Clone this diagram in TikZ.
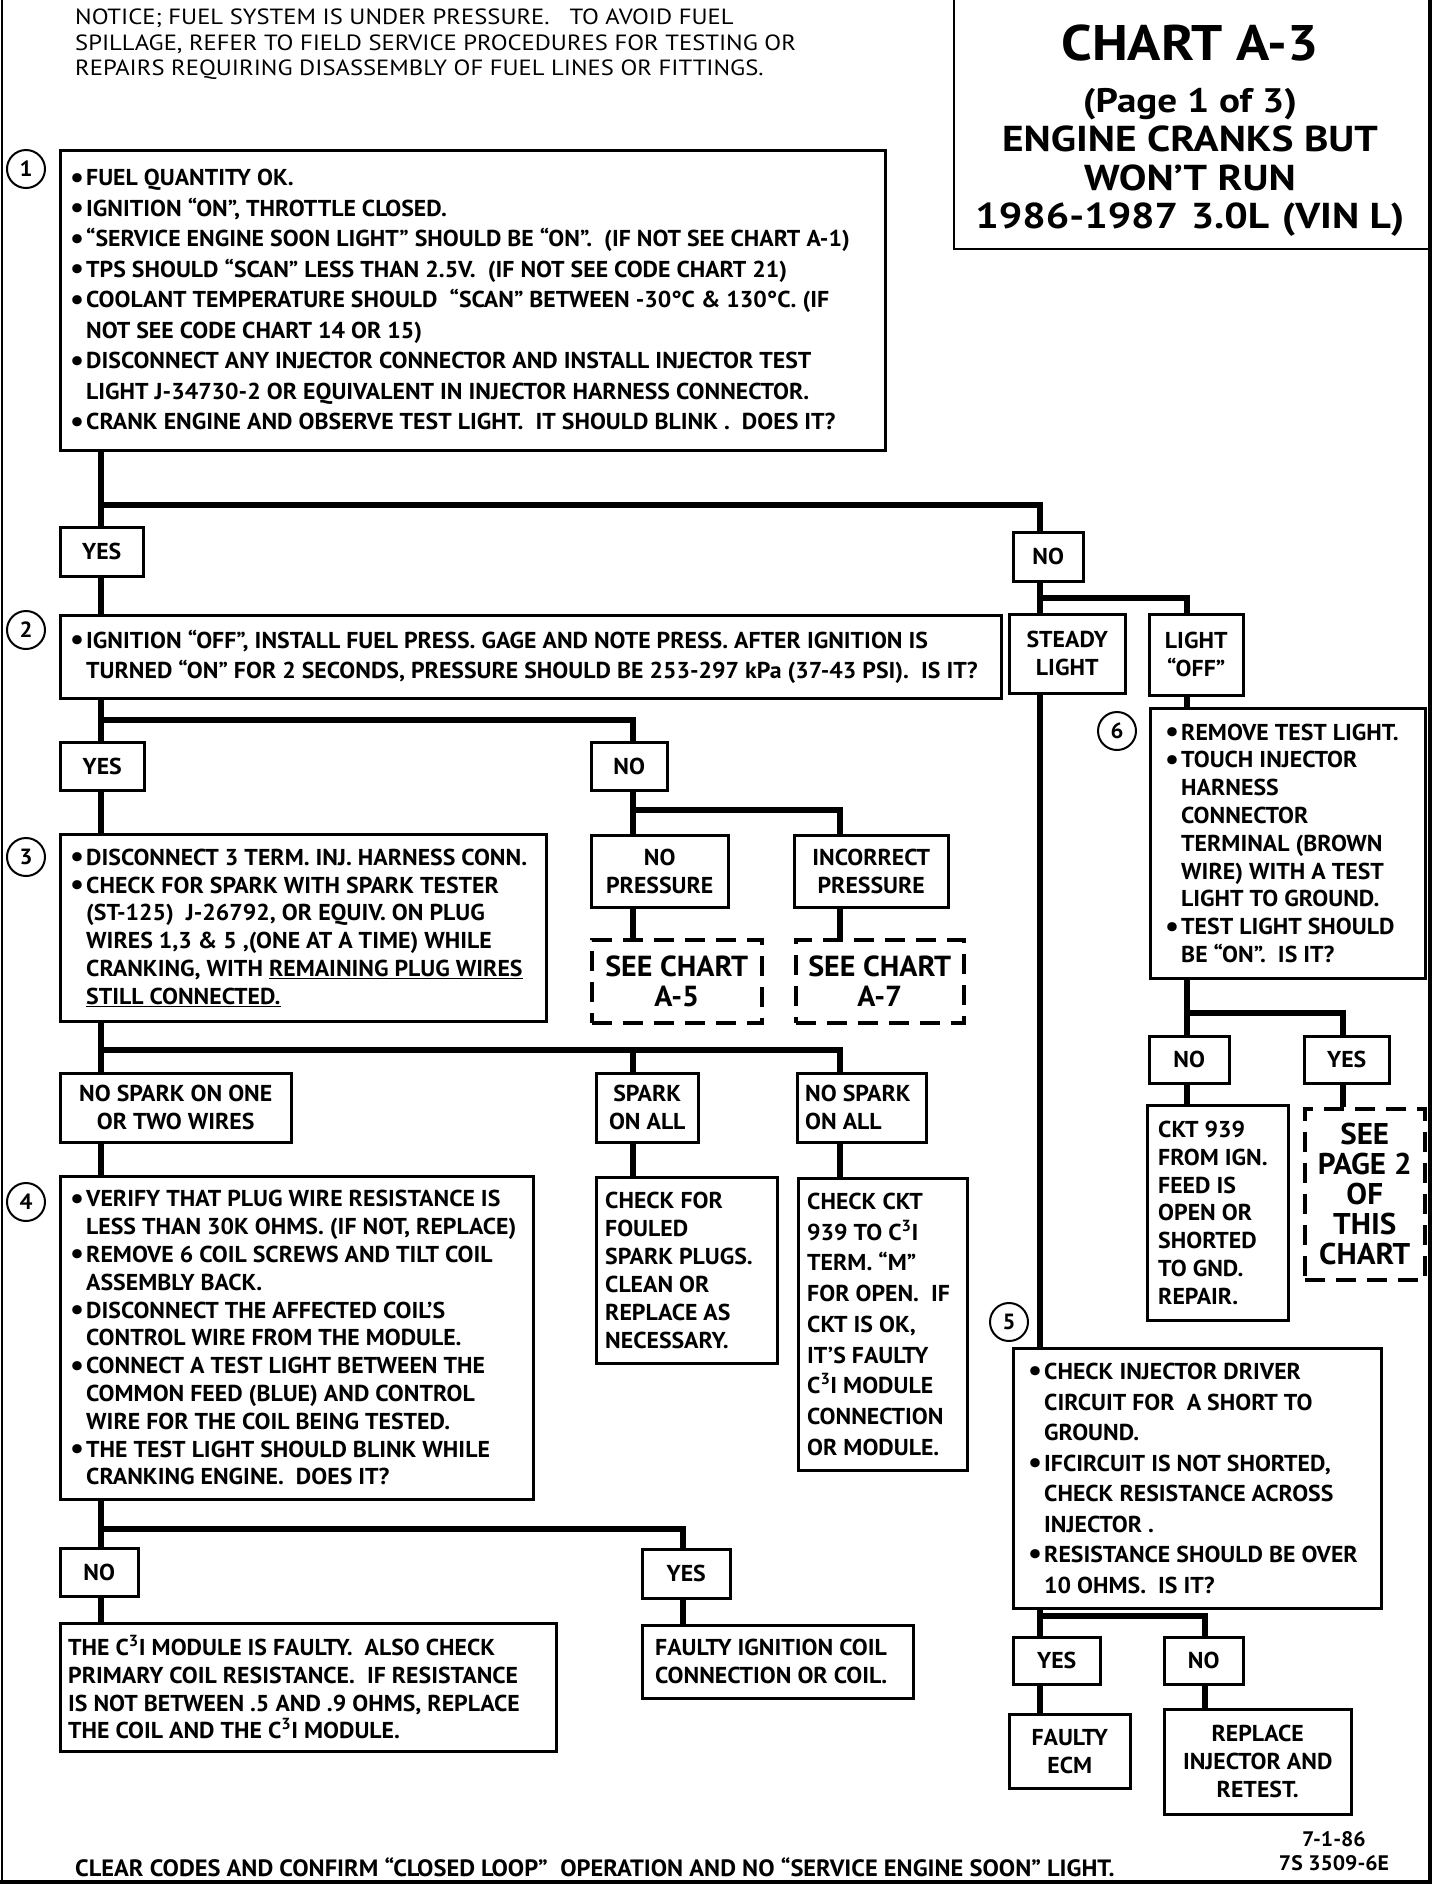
\documentclass[tikz,border=0pt]{standalone}
\usepackage{fontspec}
\usetikzlibrary{calc}
\setmainfont{PT Sans}[FakeStretch=1.035]
\newfontfamily\chartfont{PT Sans}[FakeStretch=1.1]
\newfontfamily\titlefont{PT Sans}[FakeStretch=1.15]
\newfontfamily\noticefont{PT Sans}[FakeStretch=1.12]
\newcommand\myfs[2]{\fontsize{#1}{#2}\selectfont\bfseries}
\newcommand\bul{\makebox[16pt][l]{\raisebox{-0.06em}{\scalebox{1.3}{•}}}}
\newcommand\ind{\hspace*{16pt}}
\newcommand\cthree{C\textsuperscript{3}I}
\tikzset{
  bx/.style={draw, line width=2.5pt, anchor=north west, inner sep=0pt, align=center, font=\myfs{23}{27.7}},
  dbx/.style={bx, line width=3.5pt, dash pattern=on 20pt off 11pt},
  txt/.style={anchor=west, align=left, inner sep=0pt},
  ttl/.style={inner sep=0pt},
  conn/.style={line width=6.5pt, line join=miter},
  circ/.style={draw, circle, line width=2pt, minimum size=38pt, inner sep=0pt, font=\myfs{22}{22}},
  frame/.style={line width=4pt},
}
\begin{document}
\begin{tikzpicture}[x=1pt,y=-1pt]
\useasboundingbox (0,0) rectangle (1456,1888);
% frame
\draw[line width=2pt] (1.5,0) -- (1.5,1882);
\draw[frame] (1430,0) -- (1430,1884);
\draw[frame] (0,1882) -- (1432,1882);
\draw[line width=2.5pt] (954,0) -- (954,249) -- (1430,249);
% title
\node[ttl, font=\chartfont\fontsize{50}{52}\selectfont\bfseries] (t1) at (1190,43) {CHART A-3};
\node[ttl, font=\titlefont\fontsize{34}{36}\selectfont\bfseries] (t2) at (1190,104) {(Page 1 of 3)};
\node[ttl, font=\titlefont\fontsize{36}{38}\selectfont\bfseries] (t3) at (1190,139) {ENGINE CRANKS BUT};
\node[ttl, font=\titlefont\fontsize{36}{38}\selectfont\bfseries] (t4) at (1190,178) {WON’T RUN};
\node[ttl, font=\titlefont\fontsize{36}{38}\selectfont\bfseries] (t5) at (1190,220) {1986-1987\hspace{0.35em}3.0L\hspace{0.35em}(VIN L)};
% notice
\node[anchor=north west, align=left, inner sep=0pt, font=\noticefont\fontsize{22}{25.5}\selectfont] (notice) at (75,9)
 {NOTICE; FUEL SYSTEM IS UNDER PRESSURE.\hspace{0.9em}TO AVOID FUEL\\
  SPILLAGE, REFER TO FIELD SERVICE PROCEDURES FOR TESTING OR\\
  REPAIRS REQUIRING DISASSEMBLY OF FUEL LINES OR FITTINGS.};
% circles
\node[circ] (c1) at (26,169) {1};
\node[circ] (c2) at (26,630) {2};
\node[circ] (c3) at (26,857) {3};
\node[circ] (c4) at (26,1202) {4};
\node[circ] (c5) at (1009,1322) {5};
\node[circ] (c6) at (1117,731) {6};
% boxes
\node[bx, minimum width=825pt, minimum height=300pt] (b1) at (59,149) {};
\node[txt, font=\myfs{23}{30.5}] (b1t) at ($(b1.west)+(11,0)$)
 {\bul FUEL QUANTITY OK.\\
  \bul IGNITION “ON”, THROTTLE CLOSED.\\
  \bul “SERVICE ENGINE SOON LIGHT” SHOULD BE “ON”.\ \ (IF NOT SEE CHART A-1)\\
  \bul TPS SHOULD “SCAN” LESS THAN 2.5V.\ \ (IF NOT SEE CODE CHART 21)\\
  \bul COOLANT TEMPERATURE SHOULD\ \ “SCAN” BETWEEN -30°C \& 130°C. (IF\\
  \ind NOT SEE CODE CHART 14 OR 15)\\
  \bul DISCONNECT ANY INJECTOR CONNECTOR AND INSTALL INJECTOR TEST\\
  \ind LIGHT J-34730-2 OR EQUIVALENT IN INJECTOR HARNESS CONNECTOR.\\
  \bul CRANK ENGINE AND OBSERVE TEST LIGHT.\ \ IT SHOULD BLINK .\ \ DOES IT?};
\node[bx, minimum width=83pt, minimum height=49pt] (yes1) at (59,526) {YES};
\node[bx, minimum width=70pt, minimum height=49pt] (no1) at (1012,531) {NO};
\node[bx, minimum width=941pt, minimum height=83pt] (b2) at (59,614) {};
\node[txt, font=\myfs{23}{30}] (b2t) at ($(b2.west)+(11,0)$)
 {\bul IGNITION “OFF”, INSTALL FUEL PRESS. GAGE AND NOTE PRESS. AFTER IGNITION IS\\
  \ind TURNED\ “ON” FOR 2 SECONDS,\ PRESSURE SHOULD BE 253-297 kPa\ (37-43 PSI).\ \ IS IT?};
\node[bx, minimum width=116pt, minimum height=79pt] (steady) at (1008,613) {STEADY\\LIGHT};
\node[bx, minimum width=94pt, minimum height=81pt] (lightoff) at (1148,613) {LIGHT\\“OFF”};
\node[bx, minimum width=275pt, minimum height=270pt] (b6) at (1149,707) {};
\node[txt, font=\myfs{23}{27.8}] (b6t) at ($(b6.west)+(16,0)$)
 {\bul REMOVE TEST LIGHT.\\
  \bul TOUCH INJECTOR\\
  \ind HARNESS\\
  \ind CONNECTOR\\
  \ind TERMINAL (BROWN\\
  \ind WIRE) WITH A TEST\\
  \ind LIGHT TO GROUND.\\
  \bul TEST LIGHT SHOULD\\
  \ind BE “ON”.\ \ IS IT?};
\node[bx, minimum width=84pt, minimum height=48pt] (yes2) at (59,741) {YES};
\node[bx, minimum width=76pt, minimum height=48pt] (no2) at (590,741) {NO};
\node[bx, minimum width=486pt, minimum height=187pt] (b3) at (59,833) {};
\node[txt, font=\myfs{23}{27.7}] (b3t) at ($(b3.west)+(11,0)$)
 {\bul DISCONNECT 3 TERM. INJ. HARNESS CONN.\\
  \bul CHECK FOR SPARK WITH SPARK TESTER\\
  \ind (ST-125)\ \ J-26792, OR EQUIV. ON PLUG\\
  \ind WIRES 1,3 \& 5 ,(ONE AT A TIME) WHILE\\
  \ind CRANKING, WITH \underline{REMAINING PLUG WIRES}\\
  \ind \underline{STILL CONNECTED.}};
\node[bx, minimum width=137pt, minimum height=72pt] (nopress) at (590,834) {NO\\PRESSURE};
\node[bx, minimum width=154pt, minimum height=72pt] (incorr) at (793,834) {INCORRECT\\PRESSURE};
\node[dbx, minimum width=170pt, minimum height=83pt, font=\myfs{29}{30}] (seeA5) at (590,938) {SEE CHART\\A-5};
\node[dbx, minimum width=168pt, minimum height=83pt, font=\myfs{29}{30}] (seeA7) at (794,938) {SEE CHART\\A-7};
\node[bx, minimum width=231pt, minimum height=69pt] (nospark12) at (59,1072) {NO SPARK ON ONE\\OR TWO WIRES};
\node[bx, minimum width=102pt, minimum height=69pt] (sparkall) at (595,1072) {SPARK\\ON ALL};
\node[bx, minimum width=129pt, minimum height=69pt] (nosparkall) at (796,1072) {};
\node[txt, font=\myfs{23}{27.7}] (nosparkallt) at ($(nosparkall.west)+(9,0)$) {NO SPARK\\ON ALL};
\node[bx, minimum width=473pt, minimum height=323pt] (b4) at (59,1175) {};
\node[txt, font=\myfs{23}{27.8}] (b4t) at ($(b4.west)+(11,0)$)
 {\bul VERIFY THAT PLUG WIRE RESISTANCE IS\\
  \ind LESS THAN 30K OHMS. (IF NOT, REPLACE)\\
  \bul REMOVE 6 COIL SCREWS AND TILT COIL\\
  \ind ASSEMBLY BACK.\\
  \bul DISCONNECT THE AFFECTED COIL’S\\
  \ind CONTROL WIRE FROM THE MODULE.\\
  \bul CONNECT A TEST LIGHT BETWEEN THE\\
  \ind COMMON FEED (BLUE) AND CONTROL\\
  \ind WIRE FOR THE COIL BEING TESTED.\\
  \bul THE TEST LIGHT SHOULD BLINK WHILE\\
  \ind CRANKING ENGINE.\ \ DOES IT?};
\node[bx, minimum width=181pt, minimum height=186pt] (fouled) at (595,1176) {};
\node[txt, font=\myfs{23}{27.9}] (fouledt) at ($(fouled.west)+(10,0)$)
 {CHECK FOR\\FOULED\\SPARK PLUGS.\\CLEAN OR\\REPLACE AS\\NECESSARY.};
\node[bx, minimum width=169pt, minimum height=292pt] (ckt) at (797,1177) {};
\node[txt, font=\myfs{23}{30.7}] (cktt) at ($(ckt.west)+(10,0)$)
 {CHECK CKT\\939 TO \cthree\\TERM. “M”\\FOR OPEN.\ \ IF\\CKT IS OK,\\IT’S FAULTY\\\cthree{} MODULE\\CONNECTION\\OR MODULE.};
\node[bx, minimum width=80pt, minimum height=47pt] (no6) at (1148,1035) {NO};
\node[bx, minimum width=85pt, minimum height=47pt] (yes6) at (1303,1035) {YES};
\node[bx, minimum width=141pt, minimum height=215pt] (ckt939) at (1146,1104) {};
\node[txt, font=\myfs{23}{27.8}] (ckt939t) at ($(ckt939.west)+(12,0)$)
 {CKT 939\\FROM IGN.\\FEED IS\\OPEN OR\\SHORTED\\TO GND.\\REPAIR.};
\node[dbx, minimum width=120pt, minimum height=171pt, font=\myfs{30}{30}] (seeP2) at (1303,1107) {SEE\\PAGE 2\\OF\\THIS\\CHART};
\node[bx, minimum width=368pt, minimum height=260pt] (b5) at (1012,1347) {};
\node[txt, font=\myfs{23}{30.5}] (b5t) at ($(b5.west)+(16,0)$)
 {\bul CHECK INJECTOR DRIVER\\
  \ind CIRCUIT FOR\ \ A SHORT TO\\
  \ind GROUND.\\
  \bul IFCIRCUIT IS NOT SHORTED,\\
  \ind CHECK RESISTANCE ACROSS\\
  \ind INJECTOR .\\
  \bul RESISTANCE SHOULD BE OVER\\
  \ind 10 OHMS.\ \ IS IT?};
\node[bx, minimum width=78pt, minimum height=48pt] (no4) at (59,1547) {NO};
\node[bx, minimum width=88pt, minimum height=49pt] (yes4) at (641,1548) {YES};
\node[bx, minimum width=496pt, minimum height=128pt] (c3i) at (59,1622) {};
\node[txt, font=\myfs{23}{27.7}] (c3it) at ($(c3i.west)+(9,0)$)
 {THE \cthree{} MODULE IS FAULTY.\ \ ALSO CHECK\\
  PRIMARY COIL RESISTANCE.\ \ IF RESISTANCE\\
  IS NOT BETWEEN .5 AND .9 OHMS, REPLACE\\
  THE COIL AND THE \cthree{} MODULE.};
\node[bx, minimum width=271pt, minimum height=73pt] (faultyign) at (641,1624) {};
\node[txt, font=\myfs{23}{27.7}] (faultyignt) at ($(faultyign.west)+(14,0)$)
 {FAULTY IGNITION COIL\\CONNECTION OR COIL.};
\node[bx, minimum width=87pt, minimum height=47pt] (yes5) at (1012,1636) {YES};
\node[bx, minimum width=79pt, minimum height=47pt] (no5) at (1163,1636) {NO};
\node[bx, minimum width=121pt, minimum height=74pt] (ecm) at (1008,1713) {FAULTY\\ECM};
\node[bx, minimum width=187pt, minimum height=105pt, font=\myfs{23}{28}] (replace) at (1163,1708) {REPLACE\\INJECTOR AND\\RETEST.};
% footer
\node[anchor=west, inner sep=0pt, font=\myfs{23.6}{24}] (footer) at (75,1867)
 {CLEAR CODES AND CONFIRM “CLOSED LOOP”\ \ OPERATION AND NO “SERVICE ENGINE SOON” LIGHT.};
\node[align=center, font=\myfs{21}{24}] (code) at (1334,1851) {7-1-86\\7S 3509-6E};
% connectors
\coordinate (j1) at (101,505); \coordinate (j1r) at (1040,505);
\draw[conn] (b1.south -| j1) -- (yes1.north -| j1);
\draw[conn] (j1) -- (j1r) -- (no1.north -| j1r);
\draw[conn] (yes1.south -| j1) -- (b2.north -| j1);
\coordinate (j2) at (1040,598); \coordinate (j2r) at (1187,598);
\draw[conn] (no1.south -| j2) -- (steady.north -| j2);
\draw[conn] (j2) -- (j2r) -- (lightoff.north -| j2r);
\draw[conn] (steady.south -| j2) -- (b5.north -| j2);
\draw[conn] (lightoff.south -| j2r) -- (b6.north -| j2r);
\coordinate (j3) at (101,720); \coordinate (j3r) at (633,720);
\draw[conn] (b2.south -| j3) -- (yes2.north -| j3);
\draw[conn] (j3) -- (j3r) -- (no2.north -| j3r);
\draw[conn] (yes2.south -| j3) -- (b3.north -| j3);
\coordinate (j4) at (633,810); \coordinate (j4r) at (840,810);
\draw[conn] (no2.south -| j4) -- (nopress.north -| j4);
\draw[conn] (j4) -- (j4r) -- (incorr.north -| j4r);
\draw[conn] (nopress.south -| j4) -- (seeA5.north -| j4);
\draw[conn] (incorr.south -| j4r) -- (seeA7.north -| j4r);
\coordinate (j5) at (101,1050); \coordinate (j5m) at (633,1050); \coordinate (j5r) at (840,1050);
\draw[conn] (b3.south -| j5) -- (nospark12.north -| j5);
\draw[conn] (j5) -- (j5r) -- (nosparkall.north -| j5r);
\draw[conn] (j5m) -- (sparkall.north -| j5m);
\draw[conn] (nospark12.south -| j5) -- (b4.north -| j5);
\draw[conn] (sparkall.south -| j5m) -- (fouled.north -| j5m);
\draw[conn] (nosparkall.south -| j5r) -- (ckt.north -| j5r);
\coordinate (j6) at (101,1529); \coordinate (j6r) at (683,1529);
\draw[conn] (b4.south -| j6) -- (no4.north -| j6);
\draw[conn] (j6) -- (j6r) -- (yes4.north -| j6r);
\draw[conn] (no4.south -| j6) -- (c3i.north -| j6);
\draw[conn] (yes4.south -| j6r) -- (faultyign.north -| j6r);
\coordinate (j7) at (1187,1013); \coordinate (j7r) at (1343,1013);
\draw[conn] (b6.south -| j7) -- (no6.north -| j7);
\draw[conn] (j7) -- (j7r) -- (yes6.north -| j7r);
\draw[conn] (no6.south -| j7) -- (ckt939.north -| j7);
\draw[conn] (yes6.south -| j7r) -- (seeP2.north -| j7r);
\coordinate (j8) at (1040,1616); \coordinate (j8r) at (1205,1616);
\draw[conn] (b5.south -| j8) -- (yes5.north -| j8);
\draw[conn] (j8) -- (j8r) -- (no5.north -| j8r);
\draw[conn] (yes5.south -| j8) -- (ecm.north -| j8);
\draw[conn] (no5.south -| j8r) -- (replace.north -| j8r);
\end{tikzpicture}
\end{document}
